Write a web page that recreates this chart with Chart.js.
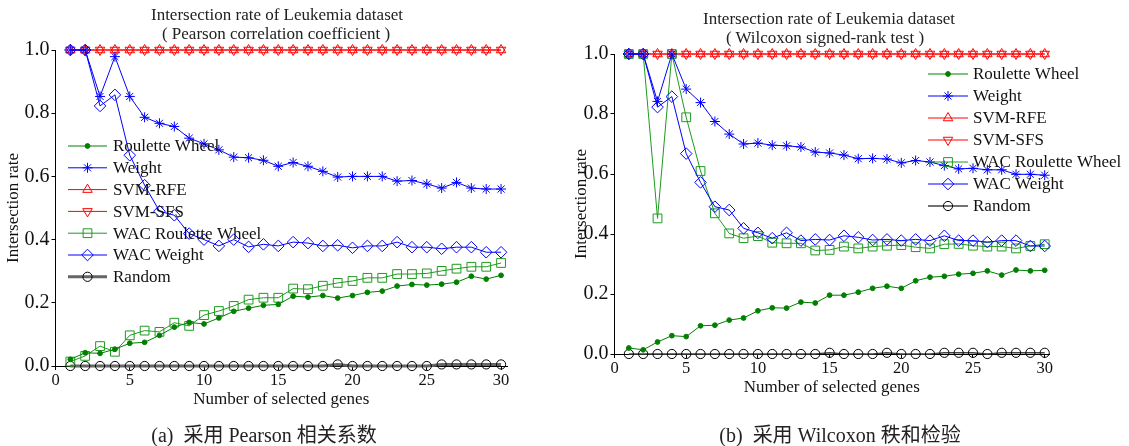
<!DOCTYPE html>
<html>
<head>
<meta charset="utf-8">
<script src="https://cdn.jsdelivr.net/npm/chart.js@4.4.1/dist/chart.umd.min.js"></script>
<style>
  html, body { margin: 0; padding: 0; background: #fff; }
  body { width: 1129px; height: 446px; position: relative; overflow: hidden;
         font-family: "Liberation Serif", "Noto Sans CJK SC", serif; color: #111; }
  .panel { position: absolute; top: 0; height: 446px; }
  .title { position: absolute; white-space: nowrap; font-size: 17px; line-height: 18px;
           transform: translate(-50%, -50%); color: #222; }
  .caption { position: absolute; white-space: nowrap; font-size: 20px;
             transform: translate(-50%, -50%); color: #222; }
</style>
</head>
<body>
<div class="panel" style="left:0;width:560px"><canvas id="pearson" width="560" height="446"></canvas></div>
<div class="panel" style="left:560px;width:569px"><canvas id="wilcoxon" width="569" height="446"></canvas></div>

<div class="title" style="left:277px;top:15px">Intersection rate of Leukemia dataset</div>
<div class="title" style="left:276px;top:34px">( Pearson correlation coefficient )</div>
<div class="title" style="left:829px;top:19px">Intersection rate of Leukemia dataset</div>
<div class="title" style="left:825px;top:38px">( Wilcoxon signed-rank test )</div>
<div class="caption" style="left:264px;top:433px">(a)&nbsp; 采用 Pearson 相关系数</div>
<div class="caption" style="left:840px;top:433px">(b)&nbsp; 采用 Wilcoxon 秩和检验</div>

<script>
// ---- data -------------------------------------------------------------
const genes = [1,2,3,4,5,6,7,8,9,10,11,12,13,14,15,16,17,18,19,20,21,22,23,24,25,26,27,28,29,30];
const xTickValues = [0,5,10,15,20,25,30];
const yTickValues = [0,0.2,0.4,0.6,0.8,1.0];

const seriesNames = ['Roulette Wheel','Weight','SVM-RFE','SVM-SFS','WAC Roulette Wheel','WAC Weight','Random'];

// (a) Pearson correlation coefficient
const pearsonRoulette = [0.021,0.042,0.040,0.053,0.072,0.075,0.097,0.123,0.138,0.133,0.152,0.173,0.183,0.192,0.195,0.221,0.218,0.223,0.215,0.223,0.233,0.237,0.253,0.258,0.256,0.259,0.265,0.284,0.275,0.287];
const pearsonWeight   = [1.0,1.0,0.853,0.979,0.853,0.787,0.768,0.758,0.721,0.703,0.684,0.661,0.659,0.651,0.632,0.644,0.632,0.616,0.598,0.600,0.600,0.600,0.585,0.587,0.576,0.563,0.581,0.563,0.560,0.560];
const pearsonSvmRfe   = [1,1,1,1,1,1,1,1,1,1,1,1,1,1,1,1,1,1,1,1,1,1,1,1,1,1,1,1,1,1];
const pearsonSvmSfs   = [1,1,1,1,1,1,1,1,1,1,1,1,1,1,1,1,1,1,1,1,1,1,1,1,1,1,1,1,1,1];
const pearsonWacRoulette = [0.014,0.032,0.063,0.045,0.097,0.112,0.108,0.137,0.127,0.161,0.174,0.190,0.210,0.216,0.216,0.245,0.243,0.254,0.263,0.269,0.279,0.279,0.291,0.291,0.293,0.301,0.308,0.314,0.314,0.326];
const pearsonWacWeight = [1.0,1.0,0.823,0.858,0.667,0.572,0.490,0.477,0.419,0.400,0.380,0.400,0.377,0.385,0.380,0.392,0.389,0.380,0.382,0.374,0.380,0.380,0.392,0.376,0.376,0.371,0.376,0.376,0.360,0.360];
const pearsonRandom   = [0,0,0,0,0,0,0,0,0,0,0,0,0,0,0,0,0,0,0.005,0,0,0,0,0,0,0.005,0.005,0.005,0.005,0.005];

// (b) Wilcoxon signed-rank test
const wilcoxonRoulette = [0.020,0.014,0.040,0.061,0.058,0.094,0.096,0.113,0.120,0.144,0.154,0.153,0.173,0.170,0.196,0.196,0.206,0.219,0.226,0.219,0.244,0.256,0.259,0.266,0.269,0.277,0.263,0.280,0.277,0.279];
const wilcoxonWeight   = [1.0,1.0,0.842,1.0,0.883,0.838,0.775,0.733,0.700,0.703,0.696,0.694,0.690,0.673,0.670,0.663,0.651,0.652,0.650,0.637,0.645,0.640,0.628,0.617,0.619,0.614,0.614,0.599,0.599,0.596];
const wilcoxonSvmRfe   = [1,1,1,1,1,1,1,1,1,1,1,1,1,1,1,1,1,1,1,1,1,1,1,1,1,1,1,1,1,1];
const wilcoxonSvmSfs   = [1,1,1,1,1,1,1,1,1,1,1,1,1,1,1,1,1,1,1,1,1,1,1,1,1,1,1,1,1,1];
const wilcoxonWacRoulette = [1.0,1.0,0.452,1.0,0.789,0.610,0.469,0.402,0.386,0.393,0.371,0.369,0.369,0.345,0.347,0.358,0.352,0.358,0.361,0.363,0.356,0.352,0.366,0.367,0.361,0.358,0.358,0.352,0.360,0.366];
const wilcoxonWacWeight = [1.0,1.0,0.823,0.858,0.668,0.572,0.491,0.480,0.419,0.404,0.386,0.404,0.378,0.382,0.380,0.394,0.389,0.380,0.382,0.378,0.382,0.378,0.394,0.378,0.378,0.373,0.378,0.378,0.360,0.360];
const wilcoxonRandom   = [0,0,0,0,0,0,0,0,0,0,0,0,0,0,0.004,0,0,0,0.004,0,0,0,0.004,0.004,0.004,0,0.004,0.004,0.004,0.004];

// ---- styling ----------------------------------------------------------
const SERIF = '"Liberation Serif", "Times New Roman", serif';
const TRANSPARENT = 'rgba(0,0,0,0)';

function seriesStyles(randomLine) {
  return [
    { borderColor: '#008000', pointStyle: 'circle', pointRadius: 2.4, pointBackgroundColor: '#008000', pointBorderColor: '#008000', pointBorderWidth: 1, order: 1 },
    { borderColor: '#0000ff', pointStyle: 'star', pointRadius: 5, pointBackgroundColor: TRANSPARENT, pointBorderColor: '#0000ff', pointBorderWidth: 1, order: 2 },
    { borderColor: '#ff0000', pointStyle: 'triangle', pointRadius: 5.5, pointBackgroundColor: TRANSPARENT, pointBorderColor: '#ff0000', pointBorderWidth: 1, order: 9 },
    { borderColor: '#ff0000', pointStyle: 'triangle', pointRotation: 180, pointRadius: 5.5, pointBackgroundColor: TRANSPARENT, pointBorderColor: '#ff0000', pointBorderWidth: 1, order: 8 },
    { borderColor: '#1f9a1f', pointStyle: 'rect', pointRadius: 6.2, pointBackgroundColor: TRANSPARENT, pointBorderColor: '#1f9a1f', pointBorderWidth: 1, order: 4 },
    { borderColor: '#0000ff', pointStyle: 'rectRot', pointRadius: 5.8, pointBackgroundColor: TRANSPARENT, pointBorderColor: '#0000ff', pointBorderWidth: 1, order: 3 },
    { borderColor: randomLine.color, borderWidth: randomLine.width, pointStyle: 'circle', pointRadius: 4.6, pointBackgroundColor: TRANSPARENT, pointBorderColor: '#000', pointBorderWidth: 1, order: 10 }
  ];
}

function buildDatasets(valueLists, randomLine) {
  const styles = seriesStyles(randomLine);
  return valueLists.map((vals, i) => Object.assign({
    label: seriesNames[i],
    data: genes.map((g, k) => ({ x: g, y: vals[k] })),
    borderWidth: 1,
    tension: 0,
    clip: false,
    pointHoverRadius: 5
  }, styles[i]));
}

// Legend drawn inside the plot area, in the style of the plotted series
const insideLegend = {
  id: 'insideLegend',
  afterDatasetsDraw(chart, args, opts) {
    const ctx = chart.ctx;
    ctx.save();
    const list = chart.data.datasets;
    list.forEach((ds, i) => {
      const y = opts.y + i * opts.spacing;
      ctx.strokeStyle = ds.borderColor;
      ctx.lineWidth = ds.borderWidth;
      ctx.beginPath();
      ctx.moveTo(opts.x, y);
      ctx.lineTo(opts.x + opts.lineLen, y);
      ctx.stroke();
      ctx.fillStyle = ds.pointBackgroundColor;
      ctx.strokeStyle = ds.pointBorderColor;
      ctx.lineWidth = ds.pointBorderWidth;
      Chart.helpers.drawPoint(ctx, {
        pointStyle: ds.pointStyle,
        rotation: ds.pointRotation || 0,
        radius: ds.pointRadius,
        borderWidth: ds.pointBorderWidth
      }, opts.x + opts.lineLen / 2, y);
      ctx.fillStyle = '#111';
      ctx.font = opts.fontSize + 'px ' + SERIF;
      ctx.textBaseline = 'middle';
      ctx.textAlign = 'left';
      ctx.fillText(ds.label, opts.x + opts.lineLen + opts.gap, y + 1);
    });
    ctx.restore();
  }
};

function makeChart(id, datasets, cfg) {
  return new Chart(document.getElementById(id), {
    type: 'line',
    data: { datasets },
    plugins: [insideLegend],
    options: {
      responsive: false,
      animation: false,
      events: [],
      layout: { padding: cfg.padding },
      plugins: {
        legend: { display: false },
        title: { display: false },
        tooltip: { enabled: false },
        insideLegend: cfg.legend
      },
      scales: {
        x: {
          type: 'linear',
          min: 0,
          max: cfg.xMax,
          afterBuildTicks: (s) => { s.ticks = xTickValues.map(v => ({ value: v })); },
          afterFit: (s) => { s.height = cfg.xAxisHeight; },
          ticks: { color: '#111', font: { family: SERIF, size: cfg.xTickSize }, padding: 1, maxRotation: 0,
                   callback: (v) => String(v) },
          grid: { display: true, drawOnChartArea: false, drawTicks: true, tickLength: 4, color: '#000' },
          border: { display: true, color: '#000', width: 1 },
          title: { display: true, text: 'Number of selected genes', color: '#111',
                   font: { family: SERIF, size: 17 }, padding: { top: 0, bottom: 4 } }
        },
        y: {
          type: 'linear',
          min: 0,
          max: 1,
          afterBuildTicks: (s) => { s.ticks = yTickValues.map(v => ({ value: v })); },
          afterFit: (s) => { s.width = cfg.yAxisWidth; },
          ticks: { color: '#111', font: { family: SERIF, size: cfg.yTickSize }, padding: 2,
                   callback: (v) => Number(v).toFixed(1) },
          grid: { display: true, drawOnChartArea: false, drawTicks: true, tickLength: 4, color: '#000' },
          border: { display: true, color: '#000', width: 1 },
          title: { display: true, text: 'Intersection rate', color: '#111',
                   font: { family: SERIF, size: 17 }, padding: { top: 0, bottom: 0 } }
        }
      }
    }
  });
}

makeChart('pearson',
  buildDatasets([pearsonRoulette, pearsonWeight, pearsonSvmRfe, pearsonSvmSfs, pearsonWacRoulette, pearsonWacWeight, pearsonRandom],
                { color: '#666', width: 3 }),
  {
    padding: { left: 3, right: 53, top: 50, bottom: 32 },
    yAxisWidth: 52.5,
    xAxisHeight: 48,
    xMax: 30.4,
    xTickSize: 16.5,
    yTickSize: 20,
    legend: { x: 68, y: 146, spacing: 21.8, lineLen: 39, gap: 6, fontSize: 17 }
  });

makeChart('wilcoxon',
  buildDatasets([wilcoxonRoulette, wilcoxonWeight, wilcoxonSvmRfe, wilcoxonSvmSfs, wilcoxonWacRoulette, wilcoxonWacWeight, wilcoxonRandom],
                { color: '#444', width: 1.6 }),
  {
    padding: { left: 11, right: 80, top: 54, bottom: 44 },
    yAxisWidth: 43.5,
    xAxisHeight: 48,
    xMax: 30.3,
    xTickSize: 16.5,
    yTickSize: 20,
    legend: { x: 368, y: 74, spacing: 22, lineLen: 40, gap: 5, fontSize: 17 }
  });
</script>
</body>
</html>
